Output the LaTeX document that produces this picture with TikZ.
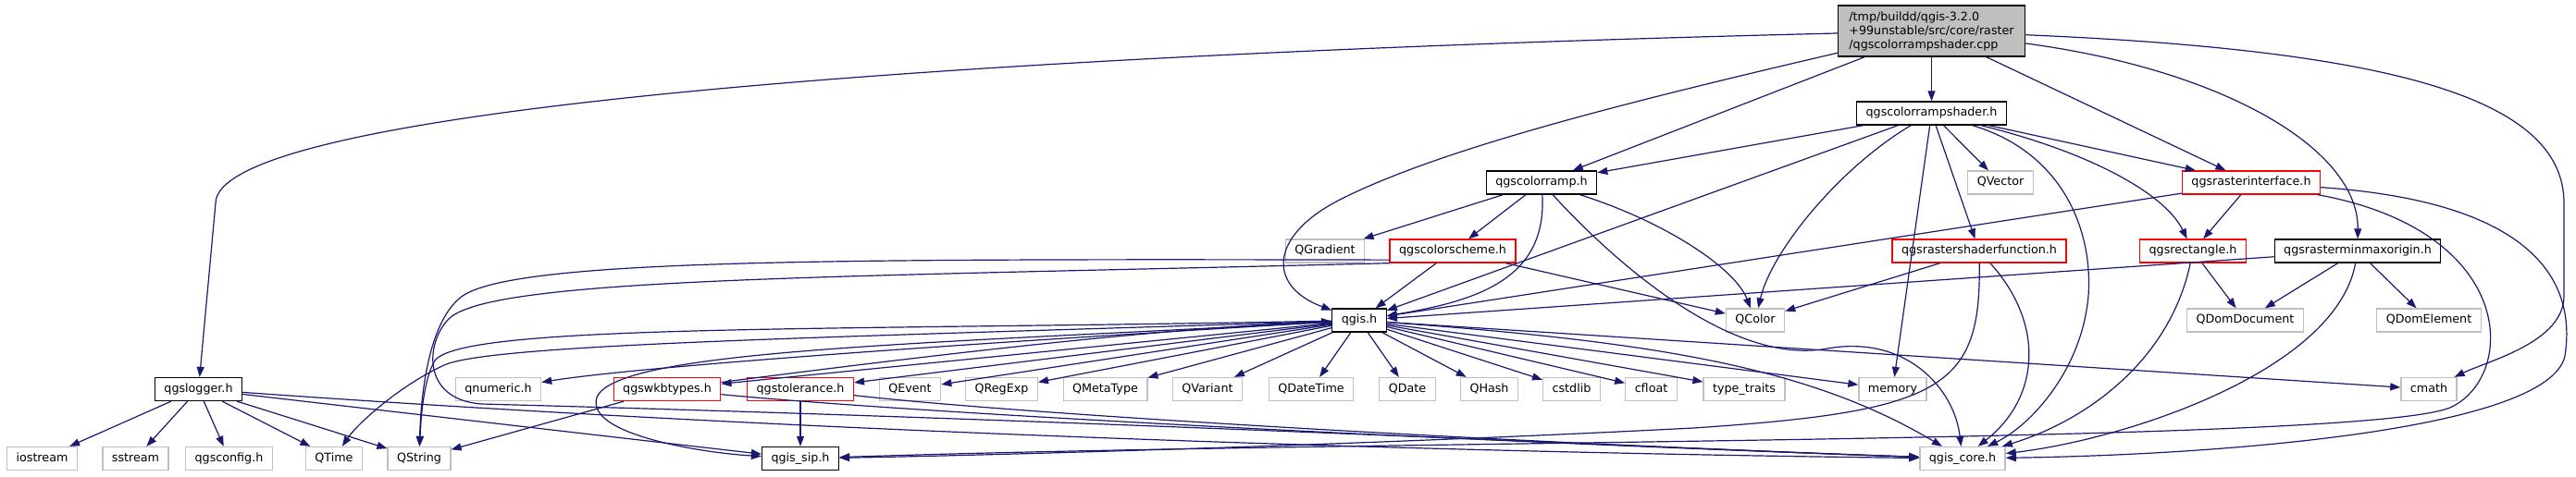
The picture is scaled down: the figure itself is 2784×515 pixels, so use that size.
\documentclass[tikz,border=0pt]{standalone}
\usepackage{fontspec}
\setmainfont{DejaVu Sans}
\usetikzlibrary{arrows.meta}
\definecolor{edgeblue}{HTML}{191970}
\definecolor{extgrey}{HTML}{BFBFBF}

\begin{document}
\begin{tikzpicture}[x=1pt, y=-1pt,
        box/.style={draw=black, line width=1.3pt, fill=white, minimum height=25pt, inner xsep=10pt, inner ysep=0pt,
            text height=9.5pt, text depth=2.7pt, font=\fontsize{12.7}{15}\selectfont},
        ext/.style={box, draw=extgrey},
        trunc/.style={box, draw=red},
        rootbox/.style={draw=black, line width=1.3pt, fill=extgrey, align=left, minimum height=55pt, inner xsep=12pt,
            font=\fontsize{12.7}{15}\selectfont},
        arr/.style={-{Triangle[length=11pt, width=8pt]}, color=edgeblue, line width=1.2pt}]

        \useasboundingbox (0,0) rectangle (2784,515);

        \node[rootbox] (cpp)         at (2087.5, 33.5) {/tmp/buildd/qgis-3.2.0\\+99unstable/src/core/raster\\/qgscolorrampshader.cpp};
        \node[box]     (shader)      at (2087.5, 122.5) {qgscolorrampshader.h};
        \node[box]     (ramp)        at (1666, 197.5)   {qgscolorramp.h};
        \node[ext]     (qvector)     at (2162, 197.5)   {QVector};
        \node[trunc]   (rasteriface) at (2433, 197.5)   {qgsrasterinterface.h};
        \node[ext]     (qgradient)   at (1432, 271.5)   {QGradient};
        \node[trunc]   (scheme)      at (1570, 271.5)   {qgscolorscheme.h};
        \node[trunc]   (shaderfn)    at (2139, 271.5)   {qgsrastershaderfunction.h};
        \node[trunc]   (rect)        at (2370, 271.5)   {qgsrectangle.h};
        \node[box]     (minmax)      at (2548, 271.5)   {qgsrasterminmaxorigin.h};
        \node[box]     (qgis)        at (1469, 346.5)   {qgis.h};
        \node[ext]     (qcolor)      at (1897, 346.5)   {QColor};
        \node[ext]     (qdomdoc)     at (2426.5, 346.5) {QDomDocument};
        \node[ext]     (qdomelem)    at (2625, 346.5)   {QDomElement};

        \node[box]     (logger)      at (214.5, 421)    {qgslogger.h};
        \node[ext]     (qnumeric)    at (538.5, 421)    {qnumeric.h};
        \node[trunc]   (wkb)         at (721, 421)      {qgswkbtypes.h};
        \node[trunc]   (tolerance)   at (865, 421)      {qgstolerance.h};
        \node[ext]     (qevent)      at (983.5, 421)    {QEvent};
        \node[ext]     (qregexp)     at (1082.5, 421)   {QRegExp};
        \node[ext]     (qmetatype)   at (1194.5, 421)   {QMetaType};
        \node[ext]     (qvariant)    at (1305, 421)     {QVariant};
        \node[ext]     (qdatetime)   at (1417, 421)     {QDateTime};
        \node[ext]     (qdate)       at (1521, 421)     {QDate};
        \node[ext]     (qhash)       at (1609.5, 421)   {QHash};
        \node[ext]     (cstdlib)     at (1698.5, 421)   {cstdlib};
        \node[ext]     (cfloat)      at (1784.5, 421)   {cfloat};
        \node[ext]     (typetraits)  at (1885, 421)     {type\_traits};
        \node[ext]     (memory)      at (2045.5, 421)   {memory};
        \node[ext]     (cmath)       at (2625, 421)     {cmath};

        \node[ext]     (iostream)    at (45.5, 496)     {iostream};
        \node[ext]     (sstream)     at (146.5, 496)    {sstream};
        \node[ext]     (qgsconfig)   at (247.5, 496)    {qgsconfig.h};
        \node[ext]     (qtime)       at (361, 496)      {QTime};
        \node[ext]     (qstring)     at (453, 496)      {QString};
        \node[box]     (sip)         at (865, 496)      {qgis\_sip.h};
        \node[ext]     (core)        at (2121, 496)     {qgis\_core.h};

        % straight includes
        \draw[arr] (cpp) -- (shader);
        \draw[arr] (cpp) -- (ramp);
        \draw[arr] (cpp) -- (rasteriface);
        \draw[arr] (shader) -- (ramp);
        \draw[arr] (shader) -- (qgis);
        \draw[arr] (shader) -- (memory);
        \draw[arr] (shader) -- (shaderfn);
        \draw[arr] (shader) -- (qvector);
        \draw[arr] ([xshift=62pt]shader.south) -- (rasteriface);
        \draw[arr] (ramp) -- (qgradient);
        \draw[arr] (ramp) -- (scheme);
        \draw[arr] (rasteriface) -- (qgis);
        \draw[arr] (rasteriface) -- (rect);
        \draw[arr] (scheme) -- (qgis);
        \draw[arr] (scheme) -- (qcolor);
        \draw[arr] (shaderfn) -- (qcolor);
        \draw[arr] (rect) -- (qdomdoc);
        \draw[arr] (minmax) -- (qgis);
        \draw[arr] (minmax) -- (qdomdoc);
        \draw[arr] (minmax) -- (qdomelem);
        \foreach \n in {wkb, tolerance, qevent, qregexp, qmetatype, qvariant, qdatetime, qdate, qhash, cstdlib, cfloat, typetraits, memory, cmath}
            \draw[arr] (qgis) -- (\n);
        \foreach \n in {iostream, sstream, qgsconfig, qtime, qstring, sip}
            \draw[arr] (logger) -- (\n);
        \draw[arr] (wkb) -- (qstring);
        \draw[arr] (tolerance) -- (sip);

        % curved includes
        \draw[arr] (cpp) .. controls (1000,60) and (233,120) .. (233,220) -- (logger);
        \draw[arr] (cpp) .. controls (1760,110) and (1560,160) .. (1450,215) .. controls (1370,255) and (1370,310) .. (qgis);
        \draw[arr] (cpp) .. controls (2400,75) and (2549,160) .. (minmax);
        \draw[arr] (cpp) .. controls (2600,55) and (2771,110) .. (2771,220) -- (2771,320) .. controls (2771,370) and (2690,390) .. (cmath);
        \draw[arr] (shader) .. controls (1990,180) and (1915,270) .. (qcolor);
        \draw[arr] (shader) .. controls (2260,165) and (2340,210) .. (rect);
        \draw[arr] (shader) .. controls (2230,165) and (2262,250) .. (2257,320) .. controls (2250,400) and (2195,460) .. (core);
        \draw[arr] (ramp) .. controls (1672,300) and (1600,325) .. (qgis);
        \draw[arr] (ramp) .. controls (1760,300) and (1880,395) .. (1975,377) .. controls (2060,362) and (2112,420) .. (core);
        \draw[arr] (ramp) .. controls (1800,240) and (1875,290) .. (qcolor);
        \draw[arr] (scheme.188) .. controls (900,280) and (560,280) .. (500,320) .. controls (465,345) and (455,420) .. (qstring);
        \draw[arr] (scheme.south west) .. controls (900,300) and (530,300) .. (485,345) .. controls (460,370) and (455,432) .. (520,437) .. controls (1200,455) and (1800,485) .. (core);
        \draw[arr] (qgis) .. controls (1100,368) and (700,395) .. (qnumeric);
        \draw[arr] (qgis) .. controls (900,365) and (530,372) .. (480,395) .. controls (430,418) and (385,460) .. (qtime);
        \draw[arr] (qgis) .. controls (900,358) and (500,350) .. (470,390) .. controls (458,410) and (455,450) .. (qstring);
        \draw[arr] (qgis) .. controls (1000,372) and (665,378) .. (645,430) .. controls (632,470) and (760,490) .. (sip);
        \draw[arr] (qgis) .. controls (1800,370) and (1960,400) .. (core);
        \draw[arr] (wkb) .. controls (1000,385) and (1250,355) .. (qgis);
        \draw[arr] (wkb) .. controls (1000,448) and (1600,478) .. (core);
        \draw[arr] (tolerance) .. controls (1100,448) and (1650,480) .. (core);
        \draw[arr] (logger) .. controls (900,470) and (1600,490) .. (core);
        \draw[arr] (shaderfn) .. controls (2141,420) and (2100,445) .. (1830,463) .. controls (1500,480) and (1100,492) .. (sip);
        \draw[arr] (shaderfn) .. controls (2210,350) and (2205,430) .. (core);
        \draw[arr] (rasteriface) .. controls (2720,250) and (2720,405) .. (2650,440) .. controls (2570,480) and (1500,475) .. (sip);
        \draw[arr] (rasteriface) .. controls (2760,220) and (2782,320) .. (2772,385) .. controls (2755,465) and (2400,492) .. (core);
        \draw[arr] (rect) .. controls (2345,390) and (2255,455) .. (core);
        \draw[arr] (minmax) .. controls (2525,400) and (2300,475) .. (core);

    \end{tikzpicture}
\end{document}
